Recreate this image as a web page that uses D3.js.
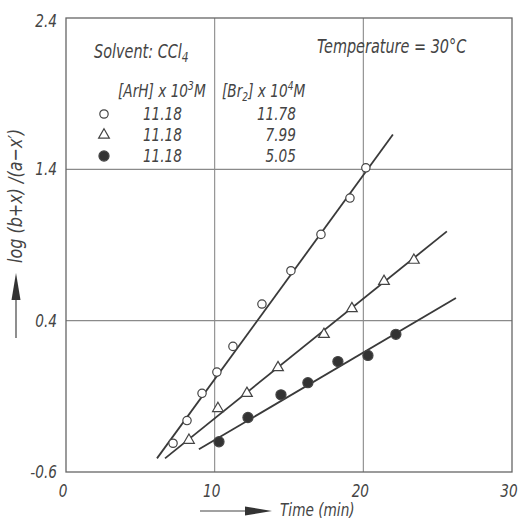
<!DOCTYPE html>
<html>
<head>
<meta charset="utf-8">
<script src="https://cdn.jsdelivr.net/npm/d3@7"></script>
<style>
  body { margin: 0; background: #fff; }
  svg text { font-family: "DejaVu Sans", sans-serif; font-style: italic; fill: #444; }
</style>
</head>
<body>
<script>
// time (min) and log values
const circleX = [7.2, 8.14, 9.15, 10.15, 11.23, 13.18, 15.13, 17.15, 19.1, 20.17];
const circleY = [-0.41, -0.26, -0.08, 0.06, 0.23, 0.51, 0.73, 0.97, 1.21, 1.41];
const triX = [8.27, 10.22, 12.17, 14.26, 17.35, 19.23, 21.39, 23.4];
const triY = [-0.39, -0.18, -0.08, 0.09, 0.31, 0.48, 0.66, 0.8];
const dotX = [10.29, 12.24, 14.46, 16.27, 18.29, 20.31, 22.19];
const dotY = [-0.4, -0.24, -0.09, -0.01, 0.13, 0.17, 0.31];

// fitted straight lines, end points [x0, x1], [y0, y1]
const circleFitX = [6.12, 21.99], circleFitY = [-0.51, 1.63];
const triFitX = [6.66, 25.62], triFitY = [-0.51, 0.99];
const dotFitX = [8.94, 26.23], dotFitY = [-0.45, 0.55];

const xTicks = [0, 10, 20, 30];
const yTicks = [-0.6, 0.4, 1.4, 2.4];
const yTickLabels = ["-0.6", "0.4", "1.4", "2.4"];
const legendArH = ["11.18", "11.18", "11.18"];
const legendBr = ["11.78", "7.99", "5.05"];

const W = 520, H = 521;
const m = {left: 66, right: 8, top: 18, bottom: 49};
const SX = 0.76; // squeeze text horizontally, the original font is condensed

const svg = d3.select("body").append("svg").attr("width", W).attr("height", H);

const x = d3.scaleLinear().domain([0, 30]).range([m.left, W - m.right]);
const y = d3.scaleLinear().domain([-0.6, 2.4]).range([H - m.bottom, m.top]);

function label(px, py, size, anchor) {
  return svg.append("text")
    .attr("transform", `translate(${px},${py}) scale(${SX},1)`)
    .attr("font-size", size).attr("text-anchor", anchor || "start");
}

// grid (only the inner lines)
svg.append("g").selectAll("line").data(xTicks.slice(1, -1)).enter().append("line")
  .attr("x1", d => x(d)).attr("x2", d => x(d))
  .attr("y1", y(2.4)).attr("y2", y(-0.6))
  .attr("stroke", "#8a8a8a").attr("stroke-width", 1.1);
svg.append("g").selectAll("line").data(yTicks.slice(1, -1)).enter().append("line")
  .attr("x1", x(0)).attr("x2", x(30))
  .attr("y1", d => y(d)).attr("y2", d => y(d))
  .attr("stroke", "#8a8a8a").attr("stroke-width", 1.1);

// frame
svg.append("rect")
  .attr("x", x(0)).attr("y", y(2.4))
  .attr("width", x(30) - x(0)).attr("height", y(-0.6) - y(2.4))
  .attr("fill", "none").attr("stroke", "#666").attr("stroke-width", 1.3);

// tick labels
yTicks.forEach((d, i) => label(x(0) - 9, y(d) + (i === 3 ? 9 : 6), 18, "end").text(yTickLabels[i]));
xTicks.forEach(d => label(x(d) - 3, y(-0.6) + 25, 18, "middle").text(d));

// fitted lines
const fits = [[circleFitX, circleFitY], [triFitX, triFitY], [dotFitX, dotFitY]];
svg.append("g").selectAll("line").data(fits).enter().append("line")
  .attr("x1", d => x(d[0][0])).attr("y1", d => y(d[1][0]))
  .attr("x2", d => x(d[0][1])).attr("y2", d => y(d[1][1]))
  .attr("stroke", "#3a3a3a").attr("stroke-width", 1.8);

// markers
const circleSym = d3.symbol().type(d3.symbolCircle).size(55);
const triSym = d3.symbol().type(d3.symbolTriangle).size(50);
const dotSym = d3.symbol().type(d3.symbolCircle).size(80);

function drawMarkers(xs, ys, sym, fill) {
  svg.append("g").selectAll("path").data(xs).enter().append("path")
    .attr("d", sym)
    .attr("transform", (d, i) => `translate(${x(d)},${y(ys[i])})`)
    .attr("fill", fill).attr("stroke", "#444").attr("stroke-width", 1.2);
}
drawMarkers(circleX, circleY, circleSym, "#fff");
drawMarkers(triX, triY, triSym, "#fff");
drawMarkers(dotX, dotY, dotSym, "#333");

// header texts
label(94, 58, 19).html('Solvent: CCl<tspan dy="4" font-size="14">4</tspan>');
label(317, 53, 19).text("Temperature = 30°C");
label(118, 97, 18)
  .html('[ArH] x 10<tspan dy="-7" font-size="12">3</tspan><tspan dy="7">M</tspan>');
label(222, 97, 18)
  .html('[Br<tspan dy="4" font-size="12">2</tspan><tspan dy="-4">] x 10</tspan><tspan dy="-7" font-size="12">4</tspan><tspan dy="7">M</tspan>');

// legend rows
const legSyms = [[circleSym, "#fff"], [triSym, "#fff"], [dotSym, "#333"]];
const rowY = [114, 135, 156];
svg.append("g").selectAll("path").data(legSyms).enter().append("path")
  .attr("d", d => d[0]())
  .attr("transform", (d, i) => `translate(104,${rowY[i]})`)
  .attr("fill", d => d[1]).attr("stroke", "#444").attr("stroke-width", 1.2);
legendArH.forEach((d, i) => label(182, rowY[i] + 6, 18, "end").text(d));
legendBr.forEach((d, i) => label(296, rowY[i] + 6, 18, "end").text(d));

// x axis title with arrow
svg.append("line").attr("x1", 200).attr("x2", 250).attr("y1", 511).attr("y2", 511)
  .attr("stroke", "#444").attr("stroke-width", 1.2);
svg.append("path").attr("d", "M245,506.5L272,511L245,515.5Z").attr("fill", "#333");
label(280, 516, 18).text("Time (min)");

// y axis title with arrow
svg.append("line").attr("x1", 16).attr("x2", 16).attr("y1", 338).attr("y2", 295)
  .attr("stroke", "#444").attr("stroke-width", 1.2);
svg.append("path").attr("d", "M11.5,300L16,273L20.5,300Z").attr("fill", "#333");
svg.append("text").attr("transform", "translate(22,263) rotate(-90) scale(0.8,1)")
  .attr("font-size", 20).text("log (b+x) /(a−x′)");
</script>
</body>
</html>
